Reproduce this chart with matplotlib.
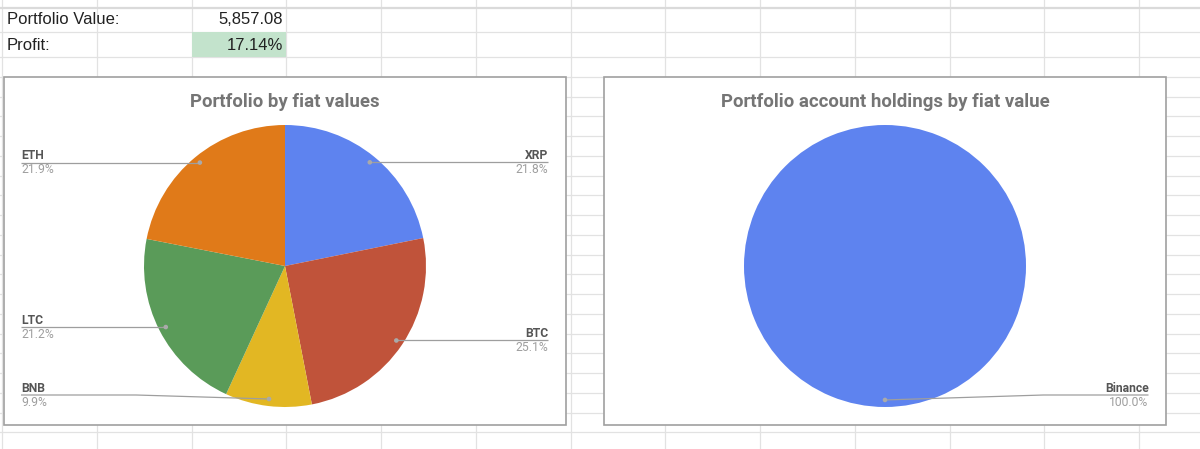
import matplotlib
matplotlib.use("Agg")
import matplotlib.pyplot as plt
import numpy as np
from matplotlib.patches import Rectangle, Circle

# ---- data ----
cell_labels = ["Portfolio Value:", "Profit:"]
cell_values = ["5,857.08", "17.14%"]

title1 = "Portfolio by fiat values"
coins = ["XRP", "BTC", "BNB", "LTC", "ETH"]
coin_pct = [21.8, 25.1, 9.9, 21.2, 21.9]
coin_colors = ["#5e83ef", "#c0533a", "#e2b723", "#5a9b59", "#e07a19"]

title2 = "Portfolio account holdings by fiat value"
accounts = ["Binance"]
account_pct = [100.0]
account_colors = ["#5e83ef"]

# ---- figure in pixel coordinates ----
W, H = 1200, 449
fig = plt.figure(figsize=(W / 100, H / 100), dpi=100)
ax = fig.add_axes([0, 0, 1, 1])


def Y(y):
    return H - y


GRID = "#e2e2e2"
# spreadsheet grid
col_x = [2 + 94.75 * k for k in range(13)]
row_y = [7.5, 32, 57] + [57 + 19.75 * k for k in range(1, 21)]
for x in col_x:
    ax.plot([x, x], [Y(0), Y(H)], color=GRID, lw=0.9, zorder=0)
for i, y in enumerate(row_y):
    ax.plot([0, W], [Y(y), Y(y)], color="#dadada" if i == 0 else GRID,
            lw=1.6 if i == 0 else 0.9, zorder=0)

# cells
ax.add_patch(Rectangle((191.5, Y(57)), 94.5, 25, facecolor="#c3e3cc",
                       edgecolor="none", zorder=1))
cell_font = dict(family=["Liberation Sans", "DejaVu Sans"], fontsize=12,
                 color="#222222", va="center")
for i, (lab, val) in enumerate(zip(cell_labels, cell_values)):
    yc = 20 + 25 * i
    ax.text(7, Y(yc), lab, ha="left", **cell_font, zorder=3)
    ax.text(283, Y(yc), val, ha="right", **cell_font, zorder=3)

FONT = ["Roboto", "DejaVu Sans"]
LINE_C = "#9e9e9e"


def chart(x0, x1, y0, y1, title, names, vals, colors, cx, cy, R):
    ax.add_patch(Rectangle((x0, Y(y1)), x1 - x0, y1 - y0, facecolor="white",
                           edgecolor="#a0a0a0", lw=1.2, zorder=2))
    ax.text((x0 + x1) / 2, Y(102), title, ha="center", va="center",
            family=FONT, fontweight="bold", fontsize=13.4, color="#757575",
            zorder=5)
    ax.pie(vals, colors=colors, startangle=90, counterclock=False,
           center=(cx, Y(cy)), radius=R, wedgeprops=dict(edgecolor="none",
                                                         zorder=3))
    total = float(sum(vals))
    cum = 0.0
    for name, v in zip(names, vals):
        th = np.deg2rad((cum + v / 2) / total * 360.0)
        cum += v
        dx, dy = np.sin(th), np.cos(th)
        px, py = cx + 0.95 * R * dx, cy - 0.95 * R * dy
        ly = min(py, y1 - 30)
        if dx < -1e-9:
            lx, ha = x0 + 17.5, "left"
            knee = lx + 115
        else:
            lx, ha = x1 - 17.5, "right"
            knee = lx - 105
        if ly < py - 0.5:
            ax.plot([lx, knee, px], [Y(ly), Y(ly), Y(py)], color=LINE_C,
                    lw=0.9, zorder=4, solid_capstyle="butt")
        else:
            ax.plot([lx, px], [Y(ly), Y(py)], color=LINE_C, lw=0.9,
                    zorder=4, solid_capstyle="butt")
        ax.add_patch(Circle((px, Y(py)), 1.6, color="#aaaaaa", zorder=4))
        ax.text(lx, Y(ly - 3.5), name, ha=ha, va="baseline", family=FONT,
                fontweight="bold", fontsize=8.7, color="#555555", zorder=5)
        ax.text(lx, Y(ly + 10.5), f"{100 * v / total:.1f}%", ha=ha,
                va="baseline", family=FONT, fontsize=8.7, color="#9e9e9e",
                zorder=5)


chart(3.5, 565.5, 77, 425, title1, coins, coin_pct, coin_colors, 285, 266, 141)
chart(604, 1166, 77, 425, title2, accounts, account_pct, account_colors,
      885, 266, 141)

ax.set_xlim(0, W)
ax.set_ylim(0, H)
ax.set_aspect("auto")
ax.axis("off")
fig.savefig("out.png", dpi=100, facecolor="white")
